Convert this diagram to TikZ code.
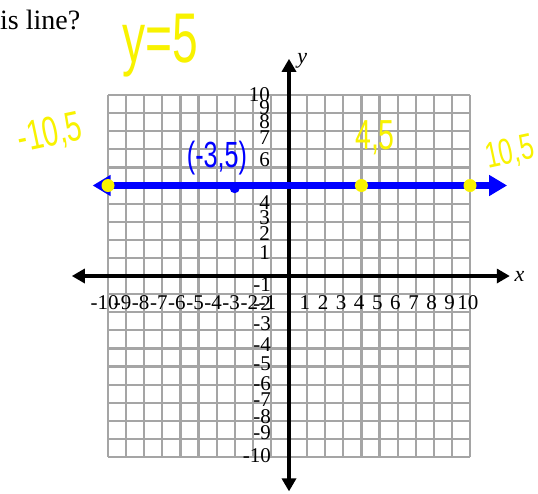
\documentclass[tikz,border=0pt]{standalone}
\usepackage{fontspec}
\setmainfont{Liberation Serif}
\newfontfamily\handfont{Liberation Sans}
\usetikzlibrary{arrows.meta}
\definecolor{hy}{RGB}{248,242,0}
\definecolor{hb}{RGB}{0,0,255}
\definecolor{gridc}{RGB}{165,165,165}
\tikzset{
  gridline/.style={draw=gridc,line width=2.2pt},
  axisline/.style={draw=black,line width=4pt,{Triangle[length=13pt,width=14pt]}-{Triangle[length=13pt,width=14pt]}},
  blueline/.style={draw=hb,line width=7pt,{Triangle[length=18pt,width=20pt]}-{Triangle[length=18pt,width=20pt]}},
  tick/.style={font=\fontsize{21}{21}\selectfont,inner sep=0pt},
  ydot/.style={circle,fill=hy,inner sep=0pt,minimum size=13pt},
  bdot/.style={circle,fill=hb,inner sep=0pt,minimum size=10pt},
  hand/.style={text=hy,font=\handfont,inner sep=0pt},
  handb/.style={text=hb,font=\handfont,inner sep=0pt},
}
\begin{document}
\begin{tikzpicture}[x=1pt,y=-1pt]
\useasboundingbox (0,0) rectangle (538,493);
\node[anchor=base west,inner sep=0pt,font=\fontsize{28}{28}\selectfont] (q) at (0,29) {is line?};
\begin{scope}[shift={(289,276)},x=18.1pt,y=18.1pt]
  \foreach \i in {-10,...,10} {
    \draw[gridline] (\i,-10) -- (\i,10);
    \draw[gridline] (-10,\i) -- (10,\i);
  }
  \coordinate (xl) at (-12.0,0);
  \coordinate (xr) at (12.2,0);
  \coordinate (yb) at (0,-11.9);
  \coordinate (yt) at (0,12.0);
  \draw[axisline] (xl) -- (xr);
  \draw[axisline] (yb) -- (yt);
  \node[anchor=west,inner sep=0pt,font=\fontsize{22}{22}\selectfont\itshape] (xlab) at (12.45,0) {x};
  \node[anchor=west,inner sep=0pt,font=\fontsize{22}{22}\selectfont\itshape] (ylab) at (0.45,11.9) {y};
  \foreach \n in {1,...,10} {
    \node[tick] (xp\n) at (\n-0.12,-1.45) {\n};
    \node[tick] (xn\n) at (-\n,-1.45) {\llap{-}\n};
  }
  \coordinate (lft) at (-10.85,5);
  \coordinate (rgt) at (12.05,5);
  \draw[blueline] (lft) -- (rgt);
  \node[bdot] (pb) at (-3,4.85) {};
  \node[ydot] (p1) at (-10,5) {};
  \node[ydot] (p2) at (4,5) {};
  \node[ydot] (p3) at (10,5) {};
\end{scope}
% y tick labels (stacked as printed)
\foreach \v/\py in {10/95,9/108,8/122,7/138,6/160,4/203,3/218,2/234,1/253} {
  \node[tick,anchor=east] (yp\v) at (270,\py) {\v};
}
\foreach \v/\py in {1/285,2/304,3/324,4/345,5/364,6/384,7/400,8/417,9/433,10/456} {
  \node[tick,anchor=east] (yn\v) at (271,\py) {\llap{-}\v};
}
% handwriting
\node[hand] (h1) at (160,46) {\scalebox{1.05}[1.6]{\fontsize{44}{44}\selectfont y=5}};
\node[hand,rotate=12] (h2) at (50,134) {\scalebox{0.95}[1.4]{\fontsize{30}{30}\selectfont -10,5}};
\node[hand] (h3) at (375,138) {\scalebox{0.95}[1.4]{\fontsize{30}{30}\selectfont 4,5}};
\node[hand,rotate=12] (h4) at (510,153) {\scalebox{0.9}[1.3]{\fontsize{28}{28}\selectfont 10,5}};
\node[handb] (h5) at (217,158) {\scalebox{0.9}[1.3]{\fontsize{28}{28}\selectfont (-3,5)}};
\end{tikzpicture}
\end{document}
